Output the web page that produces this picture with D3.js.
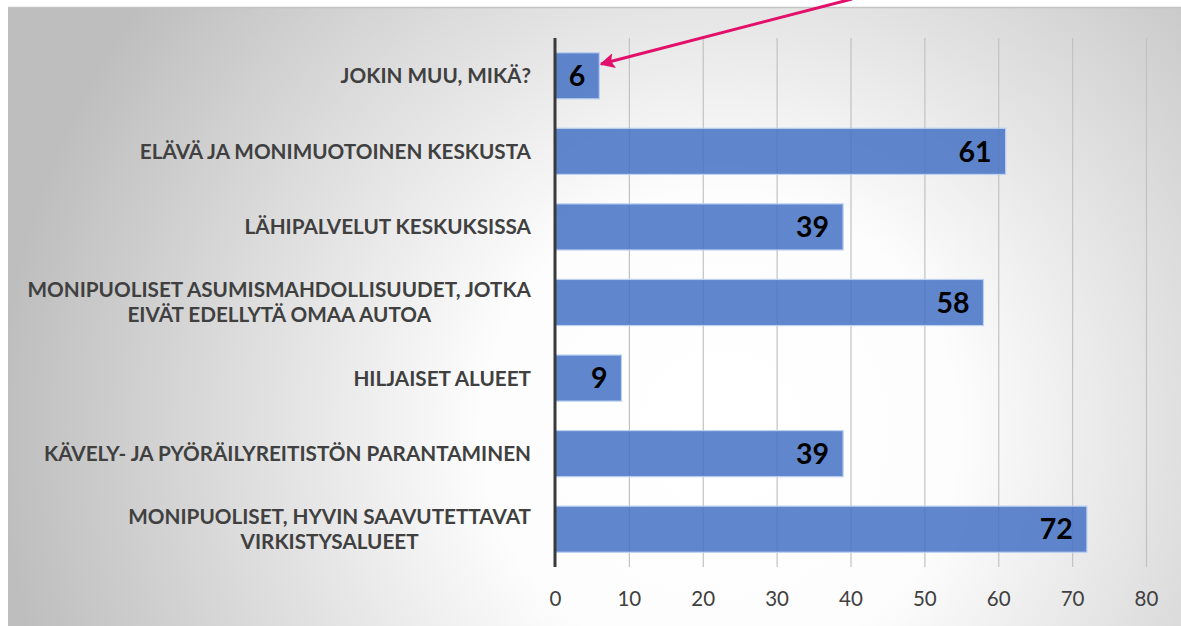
<!DOCTYPE html>
<html><head><meta charset="utf-8">
<script src="https://cdn.jsdelivr.net/npm/d3@7"></script>
<style>html,body{margin:0;padding:0;background:#fff;}svg{display:block;}</style>
</head><body>
<svg id="chart" width="1181" height="626"></svg>
<script>
const categories = [
  ["JOKIN MUU, MIKÄ?"],
  ["ELÄVÄ JA MONIMUOTOINEN KESKUSTA"],
  ["LÄHIPALVELUT KESKUKSISSA"],
  ["MONIPUOLISET ASUMISMAHDOLLISUUDET, JOTKA", "EIVÄT EDELLYTÄ OMAA AUTOA"],
  ["HILJAISET ALUEET"],
  ["KÄVELY- JA PYÖRÄILYREITISTÖN PARANTAMINEN"],
  ["MONIPUOLISET, HYVIN SAAVUTETTAVAT", "VIRKISTYSALUEET"]
];
const values = [6, 61, 39, 58, 9, 39, 72];
const tickValues = [0, 10, 20, 30, 40, 50, 60, 70, 80];

const svg = d3.select("#chart");
const W = 1181, H = 626;
const defs = svg.append("defs");
const rg = defs.append("radialGradient").attr("id","bg")
  .attr("gradientUnits","userSpaceOnUse").attr("cx",720).attr("cy",430).attr("r",720);
rg.append("stop").attr("offset","0").attr("stop-color","#ffffff");
rg.append("stop").attr("offset","0.33").attr("stop-color","#fdfdfd");
rg.append("stop").attr("offset","1").attr("stop-color","#bebebe");

defs.append("marker").attr("id","ah").attr("viewBox","0 0 10 10")
  .attr("refX",9).attr("refY",5).attr("markerWidth",6.5).attr("markerHeight",5)
  .attr("markerUnits","strokeWidth").attr("orient","auto")
  .append("path").attr("d","M0,0 L10,5 L0,10 L2,5 Z").attr("fill","#e2106b");

svg.append("rect").attr("x",8).attr("y",7).attr("width",W-8).attr("height",H-7).attr("fill","url(#bg)");
svg.append("line").attr("x1",8).attr("x2",W).attr("y1",7.5).attr("y2",7.5).attr("stroke","#c4c4c4").attr("stroke-width",1.5);

const x = d3.scaleLinear().domain([0,80]).range([555,1146]);
const y = d3.scaleBand().domain(d3.range(categories.length)).range([38,567]).paddingInner(0.39).paddingOuter(0.195);

// gridlines
const xAxis = d3.axisBottom(x).tickValues(tickValues).tickSize(0).tickFormat(d3.format("d"));
svg.append("g").selectAll("line").data(tickValues.slice(1)).join("line")
  .attr("x1",d=>x(d)+0.5).attr("x2",d=>x(d)+0.5).attr("y1",38).attr("y2",567)
  .attr("stroke","#c2c2c2").attr("stroke-width",1.2);

const ax = svg.append("g").attr("transform","translate(0,591)").call(xAxis);
ax.select(".domain").remove();
ax.selectAll("text").attr("font-family","Lato, 'Open Sans', sans-serif").attr("font-size",20.5)
  .attr("fill","#404040").attr("dy","0.71em").attr("y",0);

// bars
svg.append("g").selectAll("rect").data(values).join("rect")
  .attr("x",x(0)).attr("y",(d,i)=>y(i)).attr("width",d=>x(d)-x(0)).attr("height",y.bandwidth())
  .attr("fill","#4472c4").attr("fill-opacity",0.85)
  .attr("stroke","#bcd0f0").attr("stroke-width",1.2);

// axis line
svg.append("line").attr("x1",x(0)).attr("x2",x(0)).attr("y1",38).attr("y2",567)
  .attr("stroke","#3a3a3a").attr("stroke-width",3);

// value labels
svg.append("g").selectAll("text").data(values).join("text")
  .attr("x",d=>x(d)-14).attr("y",(d,i)=>y(i)+y.bandwidth()/2).attr("dy","0.36em")
  .attr("text-anchor","end").attr("font-family","Lato, sans-serif").attr("font-weight",700)
  .attr("font-size",28.5).attr("fill","#000").text(d=>d);

// category labels
const lab = svg.append("g").selectAll("text").data(categories).join("text")
  .attr("text-anchor","middle").attr("font-family","Lato, sans-serif").attr("font-weight",700)
  .attr("font-size",20.7).attr("fill","#404040");
lab.each(function(lines,i){
  const t = d3.select(this);
  const cy = y(i)+y.bandwidth()/2;
  const lh = 25;
  const y0 = cy - (lines.length-1)*lh/2;
  lines.forEach((s,k)=>{
    t.append("tspan").attr("y",y0+k*lh).attr("dy","0.36em").text(s);
  });
});
lab.each(function(){
  const t = d3.select(this);
  let maxW = 0;
  t.selectAll("tspan").each(function(){ maxW = Math.max(maxW, this.getComputedTextLength()); });
  t.selectAll("tspan").attr("x", 531 - maxW/2);
});

// arrow annotation
svg.append("line").attr("x1",852).attr("y1",-1).attr("x2",601).attr("y2",64)
  .attr("stroke","#e2106b").attr("stroke-width",3).attr("marker-end","url(#ah)");
</script>
</body></html>
